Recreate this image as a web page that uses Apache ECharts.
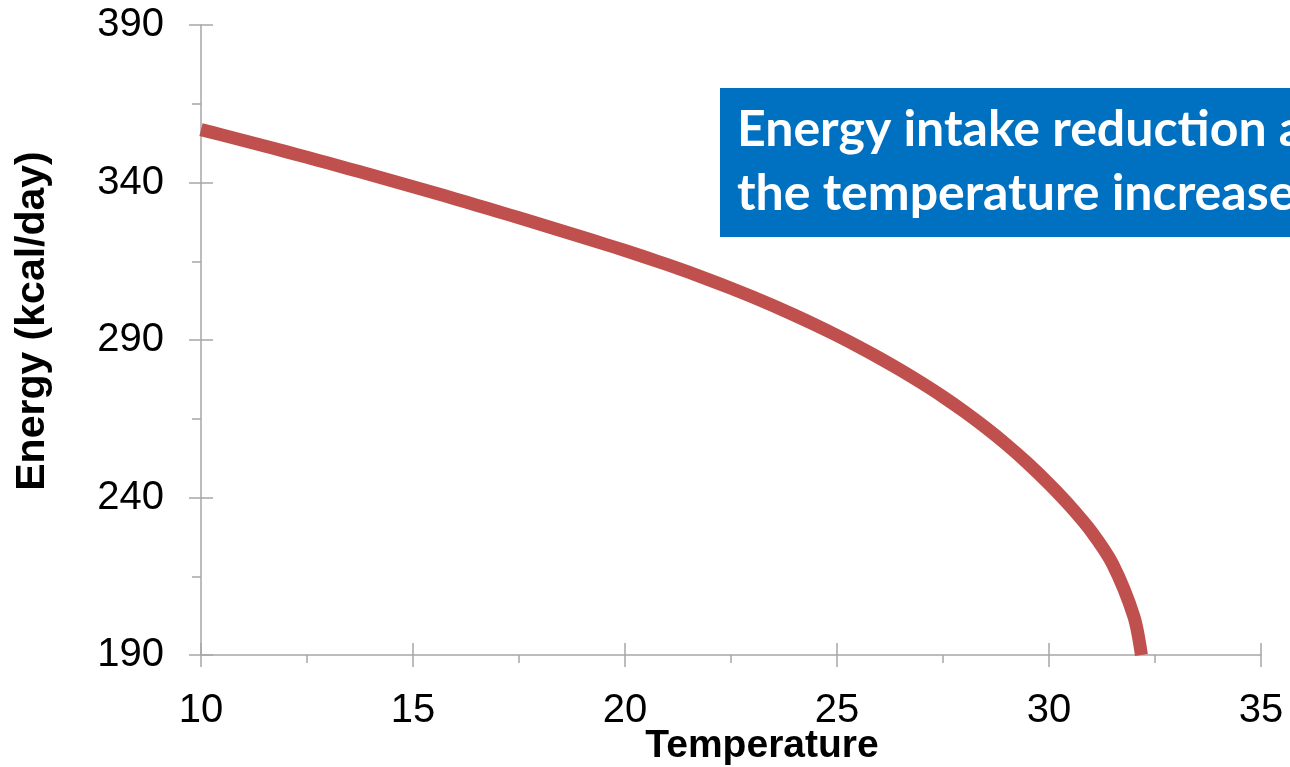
<!DOCTYPE html>
<html>
<head>
<meta charset="utf-8">
<script src="https://cdn.jsdelivr.net/npm/echarts@6/dist/echarts.min.js"></script>
<style>
html,body{margin:0;padding:0;background:#fff;}
#c{width:1290px;height:767px;}
</style>
</head>
<body>
<div id="c"></div>
<script>
// Data
var temperature = [10, 10.5, 11, 11.5, 12, 12.5, 13, 13.5, 14, 14.5, 15, 15.5, 16, 16.5, 17, 17.5, 18, 18.5, 19, 19.5,
                   20, 20.5, 21, 21.5, 22, 22.5, 23, 23.5, 24, 24.5, 25, 25.5, 26, 26.5, 27, 27.5, 28, 28.5, 29, 29.5,
                   30, 30.5, 31, 31.5, 32, 32.18];
var energy = [356.80, 355.08, 353.34, 351.58, 349.80, 347.99, 346.17, 344.32, 342.46, 340.57,
              338.66, 336.73, 334.78, 332.81, 330.81, 328.80, 326.76, 324.71, 322.63, 320.53,
              318.41, 316.20, 313.91, 311.52, 309.03, 306.43, 303.71, 300.86, 297.87, 294.73,
              291.43, 287.96, 284.30, 280.43, 276.33, 271.98, 267.28, 262.23, 256.78, 250.83,
              244.33, 237.23, 229.18, 218.90, 202.30, 190.00];
var xTicks = [10, 15, 20, 25, 30, 35];
var yTicks = [190, 240, 290, 340, 390];
var xTitle = 'Temperature';
var yTitle = 'Energy (kcal/day)';
var boxLines = ['Energy intake reduction as', 'the temperature increases'];

var points = temperature.map(function (t, i) { return [t, energy[i]]; });
var axisGray = '#a6a6a6';
var labelFont = 'Liberation Sans, Arial, sans-serif';

var chart = echarts.init(document.getElementById('c'), null, {renderer: 'canvas'});
chart.setOption({
  animation: false,
  backgroundColor: '#ffffff',
  grid: {left: 201, right: 29, top: 25, bottom: 112, containLabel: false, outerBoundsMode: 'none'},
  xAxis: [{
    type: 'value', position: 'bottom', offset: 0,
    min: xTicks[0], max: xTicks[xTicks.length - 1], interval: 5,
    axisLine: {show: true, lineStyle: {color: axisGray, width: 1.5}},
    axisTick: {show: true, inside: false, length: 12, lineStyle: {color: axisGray, width: 1.5}},
    minorTick: {show: true, splitNumber: 2, length: 8, lineStyle: {color: axisGray, width: 1.5}},
    splitLine: {show: false},
    axisLabel: {color: '#000', fontSize: 40, fontFamily: labelFont, margin: 36},
    name: xTitle, nameLocation: 'middle', nameGap: 72, nameMoveOverlap: false,
    nameTextStyle: {color: '#000', fontSize: 39, fontWeight: 'bold', fontFamily: labelFont, padding: [0, 0, 0, 62]}
  }, {
    type: 'value', position: 'bottom', offset: 0,
    min: xTicks[0], max: xTicks[xTicks.length - 1], interval: 5,
    axisLine: {show: false},
    axisTick: {show: true, inside: true, length: 12, lineStyle: {color: axisGray, width: 1.5}},
    axisLabel: {show: false}, splitLine: {show: false}
  }],
  yAxis: [{
    type: 'value', position: 'left', offset: 0,
    min: yTicks[0], max: yTicks[yTicks.length - 1], interval: 50,
    axisLine: {show: true, lineStyle: {color: axisGray, width: 1.5}},
    axisTick: {show: true, inside: false, length: 12, lineStyle: {color: axisGray, width: 1.5}},
    minorTick: {show: true, splitNumber: 2, length: 9, lineStyle: {color: axisGray, width: 1.5}},
    splitLine: {show: false},
    axisLabel: {color: '#000', fontSize: 40, fontFamily: labelFont, margin: 37},
    name: yTitle, nameLocation: 'middle', nameGap: 148, nameRotate: 90, nameMoveOverlap: false,
    nameTextStyle: {color: '#000', fontSize: 41, fontWeight: 'bold', fontFamily: labelFont, padding: [0, 0, 0, 38]}
  }, {
    type: 'value', position: 'left', offset: 0,
    min: yTicks[0], max: yTicks[yTicks.length - 1], interval: 50,
    axisLine: {show: false},
    axisTick: {show: true, inside: true, length: 12, lineStyle: {color: axisGray, width: 1.5}},
    axisLabel: {show: false}, splitLine: {show: false}
  }],
  series: [{
    type: 'line', xAxisIndex: 0, yAxisIndex: 0,
    data: points, smooth: 0.3, showSymbol: false, symbol: 'none',
    lineStyle: {color: '#C0504D', width: 13, cap: 'butt', join: 'round'},
    clip: false
  }],
  graphic: [{
    type: 'group', left: 720, top: 88,
    children: [{
      type: 'rect', shape: {x: 0, y: 0, width: 620, height: 149},
      style: {fill: '#0070C0'}
    }, {
      type: 'text', x: 17, y: 10,
      style: {
        text: boxLines.join('\n'), fill: '#ffffff',
        font: 'bold 50px Lato, "Open Sans", sans-serif', lineHeight: 64
      }
    }]
  }]
});
</script>
</body>
</html>
